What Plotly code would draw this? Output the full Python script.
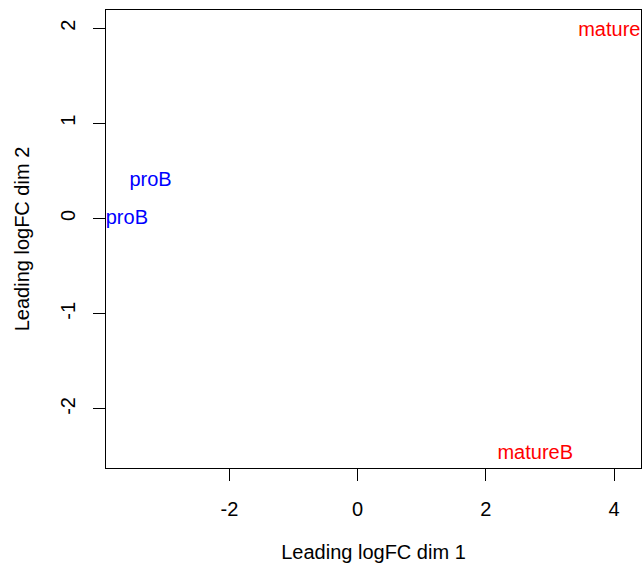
import plotly.graph_objects as go

# Sample labels and MDS coordinates
labels = ["proB", "proB", "matureB", "matureB"]
dim1 = [-3.60, -3.23, 2.77, 4.03]
dim2 = [-0.01, 0.39, -2.47, 1.97]
colors = ["#0000FF", "#0000FF", "#FF0000", "#FF0000"]

x_ticks = [-2, 0, 2, 4]
y_ticks = [-2, -1, 0, 1, 2]
x_range = [-3.925, 4.42]
y_range = [-2.62, 2.19]

FONT = "Liberation Sans, Arial, sans-serif"
FS = 20

fig = go.Figure()
fig.add_trace(go.Scatter(
    x=dim1, y=dim2, text=labels, mode="text",
    textposition="middle center",
    textfont=dict(color=colors, size=FS, family=FONT),
    cliponaxis=True, hoverinfo="skip", showlegend=False,
))

axis_common = dict(
    showgrid=False, zeroline=False, showline=True, mirror=True,
    linecolor="#000000", linewidth=1, automargin=False,
    ticks="outside", ticklen=12, tickwidth=1, tickcolor="#000000",
    tickfont=dict(size=FS, family=FONT, color="#000000"),
)

fig.update_layout(
    width=642, height=569,
    margin=dict(l=106, r=1, t=10, b=101),
    paper_bgcolor="white", plot_bgcolor="white",
    font=dict(family=FONT, size=FS, color="#000000"),
    xaxis=dict(
        range=x_range, tickvals=x_ticks, ticktext=[str(v) for v in x_ticks],
        ticklabelstandoff=11,
        title=dict(text="Leading logFC dim 1", font=dict(size=FS), standoff=25),
        **axis_common,
    ),
    yaxis=dict(
        range=y_range, tickvals=y_ticks, ticktext=[str(v) for v in y_ticks],
        tickangle=-90, ticklabelstandoff=10,
        title=dict(text="Leading logFC dim 2", font=dict(size=FS), standoff=22),
        **axis_common,
    ),
)

fig.write_html(
    "out.html",
    config={"displayModeBar": False},
    post_script="document.body.style.margin='0';document.body.style.overflow='hidden';",
)
